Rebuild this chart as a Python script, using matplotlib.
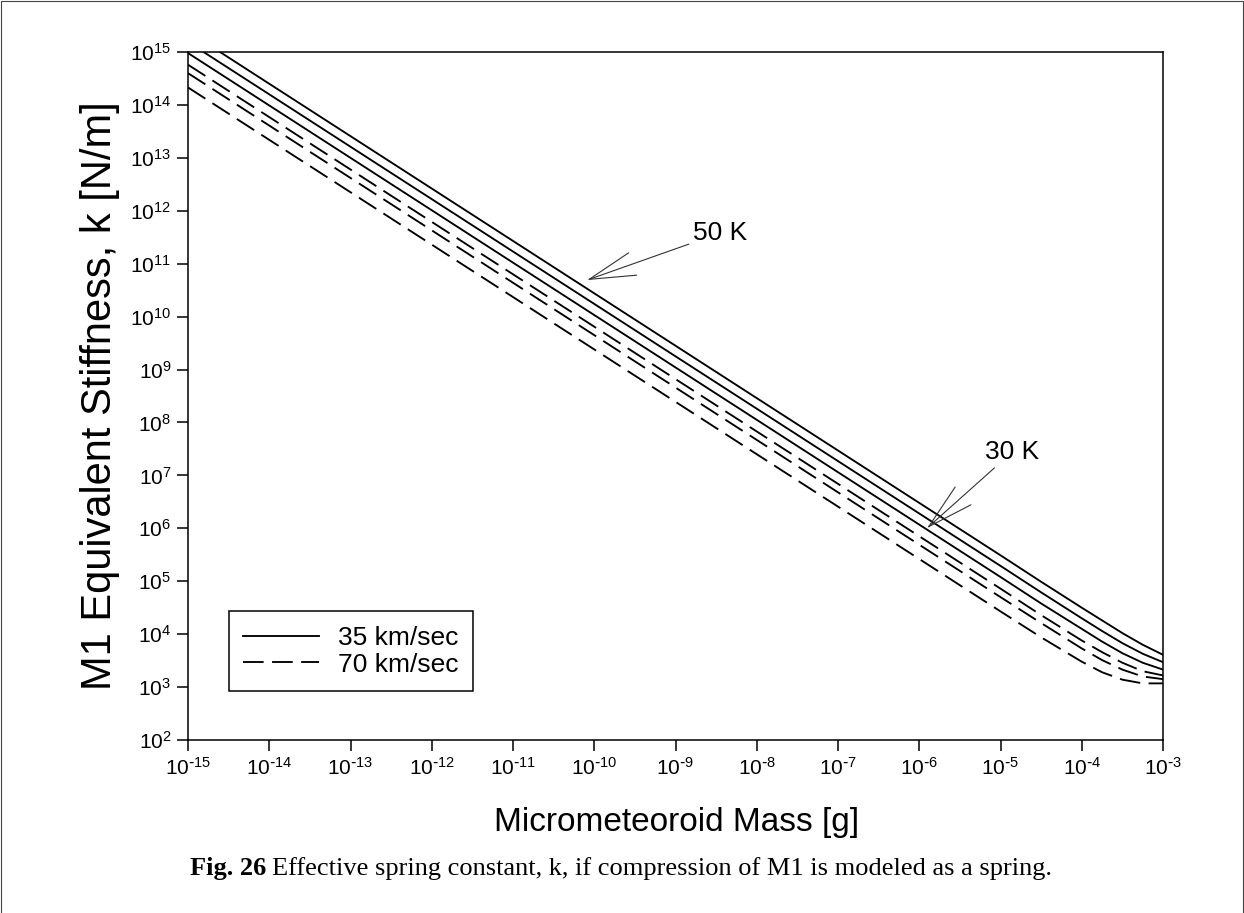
import numpy as np
import matplotlib
matplotlib.use('Agg')
import matplotlib.pyplot as plt
from matplotlib.patches import Rectangle
from matplotlib.ticker import LogLocator, NullLocator, FuncFormatter

plt.rcParams['font.family'] = 'Liberation Sans'
plt.rcParams['mathtext.default'] = 'regular'

# log10 of micrometeoroid mass [g]
mass_exp = [-15, -14, -13, -12, -11, -10, -9, -8, -7, -6, -5, -4.5, -4, -3.75, -3.5, -3.25, -3]

# log10 of equivalent stiffness k [N/m], 35 km/sec (50 K, 40 K, 30 K)
k35_a = [15.39, 14.40, 13.41, 12.42, 11.43, 10.44, 9.45, 8.46, 7.47, 6.48, 5.49, 4.99, 4.50, 4.26, 4.02, 3.80, 3.61]
k35_b = [15.19, 14.20, 13.21, 12.22, 11.23, 10.24, 9.25, 8.26, 7.27, 6.28, 5.29, 4.79, 4.30, 4.06, 3.83, 3.63, 3.47]
k35_c = [14.98, 13.99, 13.00, 12.01, 11.02, 10.03, 9.04, 8.05, 7.06, 6.07, 5.08, 4.58, 4.10, 3.86, 3.64, 3.46, 3.33]

# 70 km/sec
k70_a = [14.76, 13.77, 12.78, 11.79, 10.80, 9.81, 8.82, 7.83, 6.84, 5.85, 4.86, 4.36, 3.88, 3.66, 3.46, 3.30, 3.22]
k70_b = [14.60, 13.61, 12.62, 11.63, 10.64, 9.65, 8.66, 7.67, 6.68, 5.69, 4.70, 4.21, 3.73, 3.51, 3.33, 3.20, 3.15]
k70_c = [14.33, 13.34, 12.35, 11.36, 10.37, 9.38, 8.39, 7.40, 6.41, 5.42, 4.43, 3.94, 3.48, 3.28, 3.14, 3.07, 3.07]

W, H = 1244, 913
fig = plt.figure(figsize=(W / 100, H / 100), dpi=100)
ax = fig.add_axes([188 / W, 1 - 740 / H, 975 / W, 688 / H])

m = 10.0 ** np.array(mass_exp)
dash = (0, (11, 4.5))
lines = []
for k in (k35_a, k35_b, k35_c):
    lines += ax.plot(m, 10.0 ** np.array(k), color='black', lw=1.35)
for k in (k70_a, k70_b, k70_c):
    lines += ax.plot(m, 10.0 ** np.array(k), color='black', lw=1.35, linestyle=dash)

ax.set_xscale('log')
ax.set_yscale('log')
ax.set_xlim(1e-15, 1e-3)
ax.set_ylim(1e2, 1e15)


def exp_label(v, pos):
    e = int(round(np.log10(v)))
    if e < 0:
        return r'$10^{\text{-}%d}$' % -e
    return '$10^{%d}$' % e


fmt = FuncFormatter(exp_label)
for axis in (ax.xaxis, ax.yaxis):
    axis.set_major_locator(LogLocator(base=10, numticks=30))
    axis.set_minor_locator(NullLocator())
    axis.set_major_formatter(fmt)
ax.tick_params(direction='out', length=8, width=1.1, labelsize=15, pad=4)
for s in ax.spines.values():
    s.set_linewidth(1.1)

# temperature callouts
arrow = dict(arrowstyle='->,head_length=1.75,head_width=0.45', color='#333333', lw=0.8,
             shrinkA=1, shrinkB=0)
ax.annotate('50 K', xy=(10 ** -10.089, 10 ** 10.69), xytext=(10 ** -8.785, 10 ** 11.578),
            ha='left', va='center', fontsize=19, arrowprops=arrow)
ax.annotate('30 K', xy=(10 ** -5.905, 10 ** 6.002), xytext=(10 ** -5.191, 10 ** 7.439),
            ha='left', va='center', fontsize=19, arrowprops=arrow)

leg = ax.legend([lines[0], lines[3]], ['35 km/sec', '70 km/sec'], loc='lower left',
                bbox_to_anchor=(0.042, 0.071), borderaxespad=0, fontsize=19,
                handlelength=2.85, handletextpad=0.75, labelspacing=0.1, borderpad=0.55,
                fancybox=False, framealpha=1, edgecolor='black')
leg.get_frame().set_linewidth(1.1)

fig.text(100 / W, 1 - 396 / H, 'M1 Equivalent Stiffness, k [N/m]', rotation=90,
         ha='center', va='center', fontsize=30)
fig.text(677 / W, 1 - 822 / H, 'Micrometeoroid Mass [g]', ha='center', va='center', fontsize=24)

cap = fig.text(190 / W, 1 - 868 / H, 'Fig. 26', ha='left', va='center', fontsize=19,
               family='Liberation Serif', weight='bold')
ax.annotate('Effective spring constant, k, if compression of M1 is modeled as a spring.',
            xy=(1, 0), xycoords=cap, xytext=(4, 0), textcoords='offset points',
            ha='left', va='bottom', fontsize=19, family='Liberation Serif',
            annotation_clip=False)

fig.add_artist(Rectangle((0.5 / W, -0.05), (W - 2) / W, 1.05 - 1 / H, transform=fig.transFigure,
                         fill=False, edgecolor='#444444', lw=0.8))

fig.savefig('out.png', dpi=100)
